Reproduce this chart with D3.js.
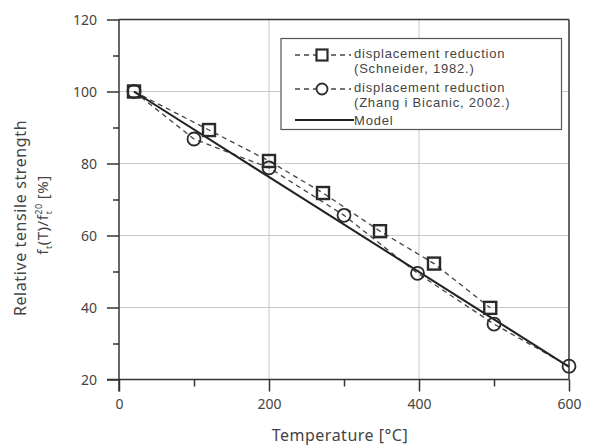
<!DOCTYPE html>
<html>
<head>
<meta charset="utf-8">
<script src="https://cdnjs.cloudflare.com/ajax/libs/d3/7.8.5/d3.min.js"></script>
<style>
  body { margin: 0; background: #fff; }
  svg text { font-family: "Noto Sans", "Open Sans", sans-serif; fill: #444; }
</style>
</head>
<body>
<div id="chart"></div>
<script>
// values
const schneiderT = [20, 120, 200, 272, 348, 420, 495];
const schneiderV = [100, 89.3, 80.7, 71.8, 61.2, 52.2, 39.9];

const zhangT = [20, 100, 200, 300, 398, 500, 600];
const zhangV = [100, 86.8, 78.8, 65.6, 49.5, 35.4, 23.7];

const modelT = [20, 600];
const modelV = [100, 23.5];

const xTicks = [0, 200, 400, 600];
const xMinor = [100, 300, 500];
const yTicks = [20, 40, 60, 80, 100, 120];
const yMinor = [30, 50, 70, 90, 110];

const legendLabels = [
    ["displacement reduction", "(Schneider, 1982.)"],
    ["displacement reduction", "(Zhang i Bicanic, 2002.)"],
    ["Model"]
];

const W = 589, H = 447;
const margin = { top: 19.5, right: 20, bottom: 67.5, left: 119 };
const width = W - margin.left - margin.right;
const height = H - margin.top - margin.bottom;

const svg = d3.select("#chart").append("svg")
    .attr("width", W)
    .attr("height", H);

const g = svg.append("g")
    .attr("transform", "translate(" + margin.left + "," + margin.top + ")");

const x = d3.scaleLinear().domain([0, 600]).range([0, width]);
const y = d3.scaleLinear().domain([20, 120]).range([height, 0]);

// grid
g.selectAll(".gx").data(xTicks.slice(1, -1)).enter().append("line")
    .attr("x1", d => x(d)).attr("x2", d => x(d))
    .attr("y1", 0).attr("y2", height)
    .attr("stroke", "#c8c8c8").attr("stroke-width", 1);
g.selectAll(".gy").data(yTicks.slice(1, -1)).enter().append("line")
    .attr("x1", 0).attr("x2", width)
    .attr("y1", d => y(d)).attr("y2", d => y(d))
    .attr("stroke", "#c8c8c8").attr("stroke-width", 1);

// frame top / right
g.append("line").attr("x1", 0).attr("x2", width).attr("y1", 0).attr("y2", 0)
    .attr("stroke", "#333").attr("stroke-width", 1.5);
g.append("line").attr("x1", width).attr("x2", width).attr("y1", 0).attr("y2", height)
    .attr("stroke", "#333").attr("stroke-width", 1.5);

// axes
const xAxis = g.append("g")
    .attr("transform", "translate(0," + height + ")")
    .call(d3.axisBottom(x).tickValues(xTicks).tickSize(12).tickPadding(4));
g.append("g")
    .attr("transform", "translate(0," + height + ")")
    .call(d3.axisBottom(x).tickValues(xMinor).tickSize(7).tickFormat(""))
    .select(".domain").remove();

const yAxis = g.append("g")
    .call(d3.axisLeft(y).tickValues(yTicks).tickSize(12).tickPadding(10));
g.append("g")
    .call(d3.axisLeft(y).tickValues(yMinor).tickSize(6).tickFormat(""))
    .select(".domain").remove();

g.selectAll(".domain").attr("stroke", "#333").attr("stroke-width", 1.5);
g.selectAll(".tick line").attr("stroke", "#333").attr("stroke-width", 1.5);
g.selectAll(".tick text").style("font-size", "14px").attr("fill", "#444")
    .style("font-family", "'Noto Sans', sans-serif");
xAxis.selectAll(".tick text").attr("dy", "0.95em");
yAxis.selectAll(".tick text").attr("dy", "0.35em");
xAxis.select(".domain").attr("d", "M-12,0H" + width);
yAxis.select(".domain").attr("d", "M0,0V" + (height + 12));

// series
const line = d3.line().x(d => x(d[0])).y(d => y(d[1]));
const sData = schneiderT.map((t, i) => [t, schneiderV[i]]);
const zData = zhangT.map((t, i) => [t, zhangV[i]]);
const mData = modelT.map((t, i) => [t, modelV[i]]);

g.append("path").datum(sData).attr("d", line)
    .attr("fill", "none").attr("stroke", "#444").attr("stroke-width", 1.3)
    .attr("stroke-dasharray", "5,4");
g.append("path").datum(zData).attr("d", line)
    .attr("fill", "none").attr("stroke", "#444").attr("stroke-width", 1.3)
    .attr("stroke-dasharray", "5,4");
g.append("path").datum(mData).attr("d", line)
    .attr("fill", "none").attr("stroke", "#222").attr("stroke-width", 2);

const sq = 12;
g.selectAll(".sq").data(sData).enter().append("rect")
    .attr("x", d => x(d[0]) - sq / 2).attr("y", d => y(d[1]) - sq / 2)
    .attr("width", sq).attr("height", sq)
    .attr("fill", "none").attr("stroke", "#2a2a2a").attr("stroke-width", 2.4);
g.selectAll(".ci").data(zData).enter().append("circle")
    .attr("cx", d => x(d[0])).attr("cy", d => y(d[1])).attr("r", 6.5)
    .attr("fill", "none").attr("stroke", "#2a2a2a").attr("stroke-width", 1.8);

// legend
const lg = svg.append("g");
lg.append("rect").attr("x", 281).attr("y", 38.5).attr("width", 280.5).attr("height", 91)
    .attr("fill", "#fff").attr("stroke", "#555").attr("stroke-width", 1.2);

const rowY = [55, 89, 120];
legendLabels.forEach((lines, i) => {
    const cy = rowY[i];
    if (i < 2) {
        lg.append("line").attr("x1", 295).attr("x2", 351).attr("y1", cy).attr("y2", cy)
            .attr("stroke", "#444").attr("stroke-width", 1.3).attr("stroke-dasharray", "5,4");
        if (i === 0) {
            lg.append("rect").attr("x", 316.5).attr("y", cy - 5.5).attr("width", 11).attr("height", 11)
                .attr("fill", "#fff").attr("stroke", "#2a2a2a").attr("stroke-width", 2.2);
        } else {
            lg.append("circle").attr("cx", 322).attr("cy", cy).attr("r", 5.5)
                .attr("fill", "#fff").attr("stroke", "#2a2a2a").attr("stroke-width", 1.8);
        }
    } else {
        lg.append("line").attr("x1", 295).attr("x2", 354).attr("y1", cy).attr("y2", cy)
            .attr("stroke", "#222").attr("stroke-width", 2);
    }
    lines.forEach((t, j) => {
        lg.append("text").attr("x", 354)
            .attr("y", cy + j * 14.5 + (lines.length > 1 ? 3 : 5))
            .style("font-family", "'Liberation Sans', Arial, sans-serif")
            .style("font-size", "13px").style("letter-spacing", "0.8px")
            .text(t);
    });
});

// axis titles
svg.append("text").attr("x", 340).attr("y", 441)
    .attr("text-anchor", "middle").style("font-size", "16px").style("letter-spacing", "0.5px")
    .text("Temperature [°C]");

svg.append("text").attr("transform", "translate(26,218) rotate(-90)")
    .attr("text-anchor", "middle").style("font-size", "16px").style("letter-spacing", "0.6px")
    .text("Relative tensile strength");

const yt2 = svg.append("text").attr("transform", "translate(48,215) rotate(-90)")
    .attr("text-anchor", "middle").style("font-size", "15px").style("letter-spacing", "0.5px");
yt2.append("tspan").text("f");
yt2.append("tspan").attr("dy", 4).style("font-size", "9px").text("t");
yt2.append("tspan").attr("dy", -4).text("(T)/f");
yt2.append("tspan").attr("dy", -6).style("font-size", "9px").text("20");
yt2.append("tspan").attr("dx", -11).attr("dy", 10).style("font-size", "9px").text("t");
yt2.append("tspan").attr("dx", 7).attr("dy", -4).text(" [%]");
</script>
</body>
</html>
